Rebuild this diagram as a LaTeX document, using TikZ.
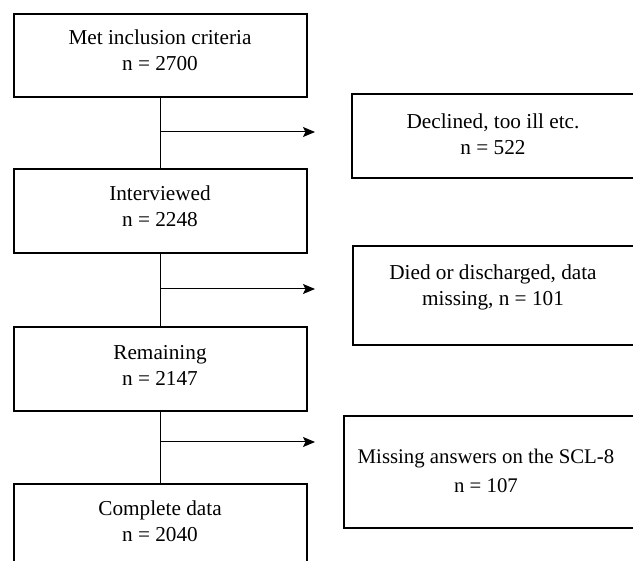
\documentclass[tikz,border=0pt]{standalone}
\usepackage{fontspec}
\setmainfont{Liberation Serif}
\usetikzlibrary{arrows.meta}
\begin{document}
\begin{tikzpicture}[x=1pt,y=-1pt,
  box/.style={draw=black,line width=1.6pt,rectangle,inner sep=0pt,anchor=north west},
  txt/.style={align=center,inner sep=0pt,font=\fontsize{21.25}{26}\selectfont},
  conn/.style={draw=black,line width=1pt},
  arr/.style={conn,-{Stealth[length=12pt,width=10pt,inset=2.5pt]}}]
\useasboundingbox (0,0) rectangle (633,561);
\clip (0,0) rectangle (633,561);
% left column boxes
\node[box,minimum width=293pt,minimum height=83pt] (b1) at (13,13) {};
\node[box,minimum width=293pt,minimum height=84pt] (b2) at (13,168) {};
\node[box,minimum width=293pt,minimum height=84pt] (b3) at (13,326) {};
\node[box,minimum width=293pt,minimum height=92pt] (b4) at (13,483) {};
% right column boxes
\node[box,minimum width=300pt,minimum height=84pt] (r1) at (351,93) {};
\node[box,minimum width=300pt,minimum height=99pt] (r2) at (352,245) {};
\node[box,minimum width=300pt,minimum height=112pt] (r3) at (343,415) {};
% texts
\node[txt] (t1) at (160,50) {Met inclusion criteria\\n = 2700};
\node[txt] (t2) at (160,206) {Interviewed\\n = 2248};
\node[txt] (t3) at (160,365) {Remaining\\n = 2147};
\node[txt] (t4) at (160,521) {Complete data\\n = 2040};
\node[txt] (tr1) at (493,134) {Declined, too ill etc.\\n = 522};
\node[txt] (tr2) at (493,287) {Died or discharged, data\\missing, n = 101};
\node[txt,font=\fontsize{20.8}{29}\selectfont] (tr3) at (486,471) {Missing answers on the SCL-8\\n = 107};
% branch points and arrow ends
\coordinate (p1) at (160,132);
\coordinate (p2) at (160,289);
\coordinate (p3) at (160,442);
\coordinate (e1) at (315,132);
\coordinate (e2) at (315,289);
\coordinate (e3) at (315,442);
% vertical connectors
\draw[conn] (b1.south) -- (b2.north);
\draw[conn] (b2.south) -- (b3.north);
\draw[conn] (b3.south) -- (b4.north);
% side arrows
\draw[arr] (p1) -- (e1);
\draw[arr] (p2) -- (e2);
\draw[arr] (p3) -- (e3);
\end{tikzpicture}
\end{document}
